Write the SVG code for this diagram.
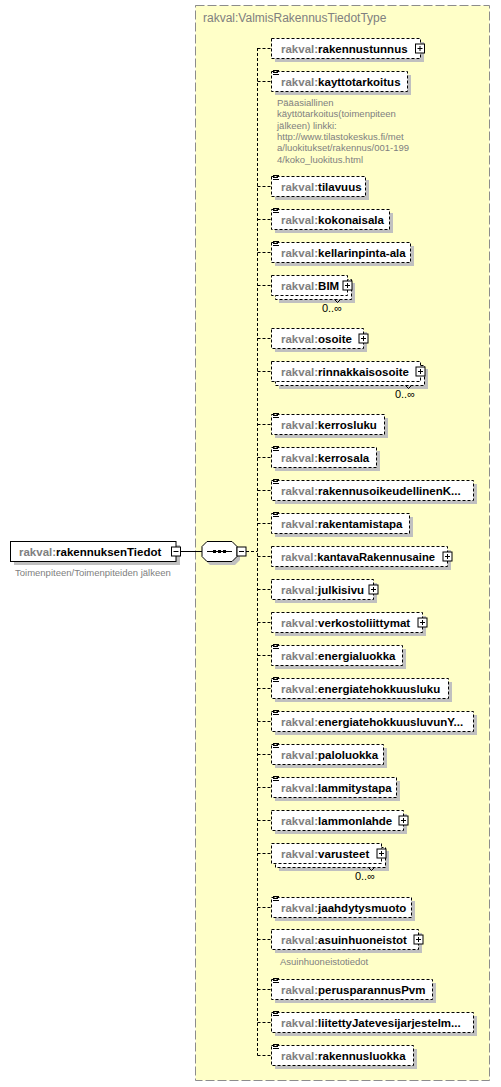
<svg xmlns="http://www.w3.org/2000/svg" xmlns:xlink="http://www.w3.org/1999/xlink" width="501" height="1087" viewBox="0 0 501 1087">
<style>
.bg{fill:#fff}
.type{fill:#FFFFC8;stroke:#8c8c8c;stroke-width:1;stroke-dasharray:9,3}
.sh{fill:#c0c0c0}
.el{fill:#fff;stroke:#000;stroke-width:1;stroke-dasharray:3,2}
.main{fill:#fff;stroke:#000;stroke-width:1}
.con{fill:none;stroke:#000;stroke-width:1;stroke-dasharray:3,2}
.sol{fill:none;stroke:#000;stroke-width:1}
.t{font-family:"Liberation Sans",Arial,sans-serif;font-size:11.5px;font-weight:bold;fill:#000}
.ns{fill:#808080}
.title{font-family:"Liberation Sans",Arial,sans-serif;font-size:12px;fill:#808080}
.ann{font-family:"Liberation Sans",Arial,sans-serif;font-size:9.5px;fill:#808080}
.occ{font-family:"Liberation Sans",Arial,sans-serif;font-size:11px;fill:#000}
.ico{stroke:#000;stroke-width:1;fill:none}
</style>
<defs>
<g id="plus"><rect x="-4.5" y="-4.5" width="9" height="9" fill="#fff" stroke="#000"/><path d="M-2.5,0H2.5M0,-2.5V2.5" stroke="#000" fill="none"/></g>
<g id="minus"><rect x="-4.5" y="-4.5" width="9" height="9" fill="#fff" stroke="#000"/><path d="M-2.5,0H2.5" stroke="#000" fill="none"/></g>
<g id="si"><path d="M0,0.5h6M0,2.5h5M0,4.5h6" class="ico"/></g>
</defs>
<rect class="bg" x="0" y="0" width="501" height="1087"/>
<g id="type-box">
<rect class="type" x="195.5" y="5.5" width="294" height="1075"/>
<text class="title" x="203" y="22">rakval:ValmisRakennusTiedotType</text>
</g>
<g id="connectors">
<path class="sol" d="M180.5,551.5H202"/>
<path class="con" d="M246,551.5H257.5"/>
<path class="con" d="M257.5,48V1055.5"/>
<path class="con" d="M257.5,48.5H271M257.5,81.5H271M257.5,186.5H271M257.5,219.5H271M257.5,252.5H271M257.5,285.5H271M257.5,338.5H271M257.5,371.5H271M257.5,424.5H271M257.5,457.5H271M257.5,490.5H271M257.5,523.5H271M257.5,556.5H271M257.5,589.5H271M257.5,622.5H271M257.5,655.5H271M257.5,688.5H271M257.5,721.5H271M257.5,754.5H271M257.5,787.5H271M257.5,820.5H271M257.5,853.5H271M257.5,907.5H271M257.5,939.5H271M257.5,989.5H271M257.5,1022.5H271M257.5,1055.5H271"/>
</g>
<g id="rakennuksenTiedot">
<rect class="sh" x="14" y="545" width="166" height="20"/>
<rect class="main" x="10.5" y="541.5" width="165.5" height="20"/>
<text class="t" x="19" y="555.5"><tspan class="ns">rakval:</tspan>rakennuksenTiedot</text>
<use xlink:href="#minus" x="176" y="551.5"/>
<text class="ann" x="15" y="576">Toimenpiteen/Toimenpiteiden jälkeen</text>
</g>
<g id="sequence">
<polygon class="sh" points="210,545 235,545 240,550 240,560 235,565 210,565 205,560 205,550"/>
<polygon class="main" points="207,541.5 232,541.5 237,546.5 237,556.5 232,561.5 207,561.5 202,556.5 202,546.5"/>
<path class="sol" d="M207,551.5H232"/>
<rect x="213" y="550" width="3" height="3" fill="#000"/>
<rect x="218" y="550" width="3" height="3" fill="#000"/>
<rect x="223" y="550" width="3" height="3" fill="#000"/>
<use xlink:href="#minus" x="241.5" y="551.5"/>
</g>
<g id="rakennustunnus">
<rect class="sh" x="275" y="42" width="149" height="20"/>
<rect class="el" x="271.5" y="38.5" width="149" height="20"/>
<text class="t" x="281" y="52.5"><tspan class="ns">rakval:</tspan>rakennustunnus</text>
<use xlink:href="#plus" x="420" y="48.5"/>
</g>
<g id="kayttotarkoitus">
<rect class="sh" x="275" y="75" width="136" height="20"/>
<rect class="el" x="271.5" y="71.5" width="136" height="20"/>
<use xlink:href="#si" x="273" y="70"/>
<text class="t" x="281" y="85.5"><tspan class="ns">rakval:</tspan>kayttotarkoitus</text>
<text class="ann" x="277"><tspan x="277" y="106">Pääasiallinen</tspan><tspan x="277" y="117.3">käyttötarkoitus(toimenpiteen</tspan><tspan x="277" y="128.6">jälkeen) linkki:</tspan><tspan x="277" y="139.9">http://www.tilastokeskus.fi/met</tspan><tspan x="277" y="151.2">a/luokitukset/rakennus/001-199</tspan><tspan x="277" y="162.5">4/koko_luokitus.html</tspan></text>
</g>
<g id="tilavuus">
<rect class="sh" x="275" y="180" width="94" height="20"/>
<rect class="el" x="271.5" y="176.5" width="94" height="20"/>
<use xlink:href="#si" x="273" y="175"/>
<text class="t" x="281" y="190.5"><tspan class="ns">rakval:</tspan>tilavuus</text>
</g>
<g id="kokonaisala">
<rect class="sh" x="275" y="213" width="118" height="20"/>
<rect class="el" x="271.5" y="209.5" width="118" height="20"/>
<use xlink:href="#si" x="273" y="208"/>
<text class="t" x="281" y="223.5"><tspan class="ns">rakval:</tspan>kokonaisala</text>
</g>
<g id="kellarinpinta-ala">
<rect class="sh" x="275" y="246" width="139" height="20"/>
<rect class="el" x="271.5" y="242.5" width="139" height="20"/>
<use xlink:href="#si" x="273" y="241"/>
<text class="t" x="281" y="256.5"><tspan class="ns">rakval:</tspan>kellarinpinta-ala</text>
</g>
<g id="BIM">
<rect class="sh" x="279" y="283" width="76" height="20"/>
<rect class="el" x="275.5" y="279.5" width="76" height="20"/>
<rect class="el" x="271.5" y="275.5" width="76" height="20"/>
<text class="t" x="281" y="289.5"><tspan class="ns">rakval:</tspan>BIM</text>
<use xlink:href="#plus" x="347.5" y="285.5"/>
<path class="sol" d="M334.5,299.5l3,3l3,-3" stroke-width="0.8"/>
<text class="occ" x="342" y="312" text-anchor="end">0..∞</text>
</g>
<g id="osoite">
<rect class="sh" x="275" y="332" width="92" height="20"/>
<rect class="el" x="271.5" y="328.5" width="92" height="20"/>
<text class="t" x="281" y="342.5"><tspan class="ns">rakval:</tspan>osoite</text>
<use xlink:href="#plus" x="363.5" y="338.5"/>
</g>
<g id="rinnakkaisosoite">
<rect class="sh" x="279" y="369" width="149" height="20"/>
<rect class="el" x="275.5" y="365.5" width="149" height="20"/>
<rect class="el" x="271.5" y="361.5" width="149" height="20"/>
<text class="t" x="281" y="375.5"><tspan class="ns">rakval:</tspan>rinnakkaisosoite</text>
<use xlink:href="#plus" x="420.5" y="371.5"/>
<path class="sol" d="M405.5,385.5l3,3l3,-3" stroke-width="0.8"/>
<text class="occ" x="415" y="398" text-anchor="end">0..∞</text>
</g>
<g id="kerrosluku">
<rect class="sh" x="275" y="418" width="113" height="20"/>
<rect class="el" x="271.5" y="414.5" width="113" height="20"/>
<use xlink:href="#si" x="273" y="413"/>
<text class="t" x="281" y="428.5"><tspan class="ns">rakval:</tspan>kerrosluku</text>
</g>
<g id="kerrosala">
<rect class="sh" x="275" y="451" width="105" height="20"/>
<rect class="el" x="271.5" y="447.5" width="105" height="20"/>
<use xlink:href="#si" x="273" y="446"/>
<text class="t" x="281" y="461.5"><tspan class="ns">rakval:</tspan>kerrosala</text>
</g>
<g id="rakennusoikeudellinenK">
<rect class="sh" x="275" y="484" width="202" height="20"/>
<rect class="el" x="271.5" y="480.5" width="202" height="20"/>
<use xlink:href="#si" x="273" y="479"/>
<text class="t" x="281" y="494.5"><tspan class="ns">rakval:</tspan>rakennusoikeudellinenK...</text>
</g>
<g id="rakentamistapa">
<rect class="sh" x="275" y="517" width="138" height="20"/>
<rect class="el" x="271.5" y="513.5" width="138" height="20"/>
<use xlink:href="#si" x="273" y="512"/>
<text class="t" x="281" y="527.5"><tspan class="ns">rakval:</tspan>rakentamistapa</text>
</g>
<g id="kantavaRakennusaine">
<rect class="sh" x="275" y="550" width="176" height="20"/>
<rect class="el" x="271.5" y="546.5" width="176" height="20"/>
<text class="t" x="281" y="560.5" textLength="154" lengthAdjust="spacingAndGlyphs"><tspan class="ns">rakval:</tspan>kantavaRakennusaine</text>
<use xlink:href="#plus" x="447.5" y="556.5"/>
</g>
<g id="julkisivu">
<rect class="sh" x="275" y="583" width="102" height="20"/>
<rect class="el" x="271.5" y="579.5" width="102" height="20"/>
<text class="t" x="281" y="593.5"><tspan class="ns">rakval:</tspan>julkisivu</text>
<use xlink:href="#plus" x="373.5" y="589.5"/>
</g>
<g id="verkostoliittymat">
<rect class="sh" x="275" y="616" width="151" height="20"/>
<rect class="el" x="271.5" y="612.5" width="151" height="20"/>
<text class="t" x="281" y="626.5"><tspan class="ns">rakval:</tspan>verkostoliittymat</text>
<use xlink:href="#plus" x="422.5" y="622.5"/>
</g>
<g id="energialuokka">
<rect class="sh" x="275" y="649" width="131" height="20"/>
<rect class="el" x="271.5" y="645.5" width="131" height="20"/>
<use xlink:href="#si" x="273" y="644"/>
<text class="t" x="281" y="659.5"><tspan class="ns">rakval:</tspan>energialuokka</text>
</g>
<g id="energiatehokkuusluku">
<rect class="sh" x="275" y="682" width="177" height="20"/>
<rect class="el" x="271.5" y="678.5" width="177" height="20"/>
<use xlink:href="#si" x="273" y="677"/>
<text class="t" x="281" y="692.5"><tspan class="ns">rakval:</tspan>energiatehokkuusluku</text>
</g>
<g id="energiatehokkuusluvunY">
<rect class="sh" x="275" y="715" width="202" height="20"/>
<rect class="el" x="271.5" y="711.5" width="202" height="20"/>
<use xlink:href="#si" x="273" y="710"/>
<text class="t" x="281" y="725.5"><tspan class="ns">rakval:</tspan>energiatehokkuusluvunY...</text>
</g>
<g id="paloluokka">
<rect class="sh" x="275" y="748" width="112" height="20"/>
<rect class="el" x="271.5" y="744.5" width="112" height="20"/>
<use xlink:href="#si" x="273" y="743"/>
<text class="t" x="281" y="758.5"><tspan class="ns">rakval:</tspan>paloluokka</text>
</g>
<g id="lammitystapa">
<rect class="sh" x="275" y="781" width="125" height="20"/>
<rect class="el" x="271.5" y="777.5" width="125" height="20"/>
<use xlink:href="#si" x="273" y="776"/>
<text class="t" x="281" y="791.5"><tspan class="ns">rakval:</tspan>lammitystapa</text>
</g>
<g id="lammonlahde">
<rect class="sh" x="275" y="814" width="132" height="20"/>
<rect class="el" x="271.5" y="810.5" width="132" height="20"/>
<text class="t" x="281" y="824.5"><tspan class="ns">rakval:</tspan>lammonlahde</text>
<use xlink:href="#plus" x="403.5" y="820.5"/>
</g>
<g id="varusteet">
<rect class="sh" x="279" y="851" width="110" height="20"/>
<rect class="el" x="275.5" y="847.5" width="110" height="20"/>
<rect class="el" x="271.5" y="843.5" width="110" height="20"/>
<text class="t" x="281" y="857.5"><tspan class="ns">rakval:</tspan>varusteet</text>
<use xlink:href="#plus" x="381.5" y="853.5"/>
<path class="sol" d="M368.5,867.5l3,3l3,-3" stroke-width="0.8"/>
<text class="occ" x="375" y="880" text-anchor="end">0..∞</text>
</g>
<g id="jaahdytysmuoto">
<rect class="sh" x="275" y="901" width="140" height="20"/>
<rect class="el" x="271.5" y="897.5" width="140" height="20"/>
<use xlink:href="#si" x="273" y="896"/>
<text class="t" x="281" y="911.5"><tspan class="ns">rakval:</tspan>jaahdytysmuoto</text>
</g>
<g id="asuinhuoneistot">
<rect class="sh" x="275" y="933" width="147" height="20"/>
<rect class="el" x="271.5" y="929.5" width="147" height="20"/>
<text class="t" x="281" y="943.5"><tspan class="ns">rakval:</tspan>asuinhuoneistot</text>
<use xlink:href="#plus" x="418.5" y="939.5"/>
<text class="ann" x="280" y="965">Asuinhuoneistotiedot</text>
</g>
<g id="perusparannusPvm">
<rect class="sh" x="275" y="983" width="161" height="20"/>
<rect class="el" x="271.5" y="979.5" width="161" height="20"/>
<use xlink:href="#si" x="273" y="978"/>
<text class="t" x="281" y="993.5"><tspan class="ns">rakval:</tspan>perusparannusPvm</text>
</g>
<g id="liitettyJatevesijarjestelm">
<rect class="sh" x="275" y="1016" width="202" height="20"/>
<rect class="el" x="271.5" y="1012.5" width="202" height="20"/>
<use xlink:href="#si" x="273" y="1011"/>
<text class="t" x="281" y="1026.5"><tspan class="ns">rakval:</tspan>liitettyJatevesijarjestelm...</text>
</g>
<g id="rakennusluokka">
<rect class="sh" x="275" y="1049" width="142" height="20"/>
<rect class="el" x="271.5" y="1045.5" width="142" height="20"/>
<use xlink:href="#si" x="273" y="1044"/>
<text class="t" x="281" y="1059.5"><tspan class="ns">rakval:</tspan>rakennusluokka</text>
</g>
</svg>
